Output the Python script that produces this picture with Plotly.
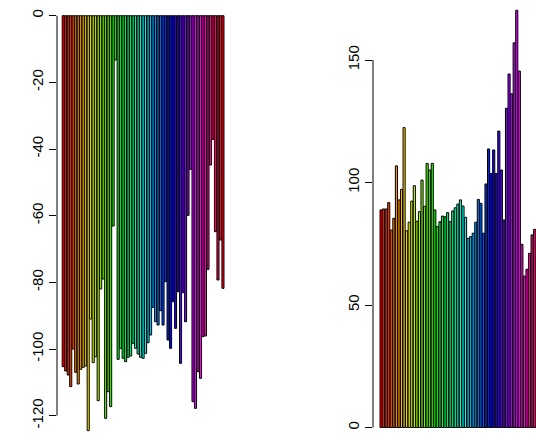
import colorsys
import plotly.graph_objects as go

# ---- data ----
left_values = [-105.3, -106.6, -107.8, -111.3, -100.0, -107.0, -110.5, -106.1, -105.5, -105.1,
               -124.5, -91.0, -104.1, -102.3, -115.5, -82.0, -79.0, -120.8, -112.8, -117.3,
               -63.1, -13.3, -103.1, -99.8, -102.8, -103.8, -102.5, -102.1, -98.3, -99.8,
               -101.5, -102.5, -102.8, -101.3, -98.1, -95.8, -87.5, -91.8, -92.8, -88.5,
               -92.8, -79.8, -97.3, -99.8, -85.8, -93.8, -82.8, -104.3, -83.1, -91.8,
               -59.9, -46.1, -115.8, -117.8, -106.8, -108.8, -96.3, -96.1, -76.1, -44.8,
               -37.1, -64.8, -79.3, -67.3, -81.8]
right_values = [88.8, 89.2, 89.2, 91.8, 80.6, 85.4, 106.8, 92.9, 97.2, 122.4,
                80.3, 83.8, 92.4, 98.7, 84.2, 88.1, 101.0, 90.3, 107.8, 105.1,
                107.8, 88.8, 82.0, 84.0, 86.3, 86.0, 87.7, 84.0, 88.4, 89.7,
                91.2, 92.9, 90.4, 85.8, 77.2, 77.9, 79.3, 83.8, 93.1, 91.5,
                79.3, 99.4, 113.7, 103.7, 113.3, 103.7, 121.0, 105.1, 84.7, 130.3,
                144.3, 136.2, 157.0, 170.3, 145.5, 74.8, 61.8, 64.6, 71.1, 78.6,
                80.9]
left_ticks = [0, -20, -40, -60, -80, -100, -120]
left_tick_labels = ["0", "-20", "-40", "-60", "-80", "-100", "-120"]
right_ticks = [0, 50, 100, 150]
right_tick_labels = ["0", "50", "100", "150"]

N_COLORS = len(left_values)


def rainbow(n):
    out = []
    for i in range(n):
        r, g, b = colorsys.hsv_to_rgb(i / n, 1, 1)
        out.append("rgb(%d,%d,%d)" % (round(r * 255), round(g * 255), round(b * 255)))
    return out


colors = rainbow(N_COLORS)
W, H = 536, 441
FONT = dict(family="Liberation Sans, Arial, sans-serif", size=15, color="black")

fig = go.Figure()
fig.add_trace(go.Bar(x=list(range(1, len(left_values) + 1)), y=left_values,
                     width=5 / 6, marker=dict(color=colors[:len(left_values)],
                                              line=dict(color="black", width=1)),
                     xaxis="x", yaxis="y", hoverinfo="skip"))
fig.add_trace(go.Bar(x=list(range(1, len(right_values) + 1)), y=right_values,
                     width=5 / 6, marker=dict(color=colors[:len(right_values)],
                                              line=dict(color="black", width=1)),
                     xaxis="x2", yaxis="y2", hoverinfo="skip"))

yax = dict(showgrid=False, zeroline=False, showline=False, ticks="outside",
           ticklen=7, tickwidth=1, tickcolor="black", tickangle=-90,
           tickfont=FONT, tickmode="array", automargin=False)
xax = dict(visible=False, showgrid=False, zeroline=False, automargin=False)

fig.update_layout(
    width=W, height=H, margin=dict(l=0, r=0, t=0, b=0, autoexpand=False),
    paper_bgcolor="white", plot_bgcolor="white", showlegend=False,
    xaxis=dict(xax, domain=[57 / W, 229 / W], range=[-1.5, 67.42], anchor="y"),
    yaxis=dict(yax, domain=[0, 1], range=[-127.6, 4.71], anchor="x",
               tickvals=left_ticks, ticktext=left_tick_labels),
    xaxis2=dict(xax, domain=[373 / W, 1], range=[-2.151, 61.52], anchor="y2"),
    yaxis2=dict(yax, domain=[0, 1], range=[-5.51, 174.5], anchor="x2",
                tickvals=right_ticks, ticktext=right_tick_labels),
    shapes=[
        dict(type="line", xref="x domain", yref="y", x0=0, x1=0,
             y0=min(left_ticks), y1=max(left_ticks), line=dict(color="black", width=1)),
        dict(type="line", xref="x2 domain", yref="y2", x0=0, x1=0,
             y0=min(right_ticks), y1=max(right_ticks), line=dict(color="black", width=1)),
    ],
)

fig.write_html("out.html", config={"displayModeBar": False},
               post_script="document.body.style.margin='0';document.body.style.padding='0';")
